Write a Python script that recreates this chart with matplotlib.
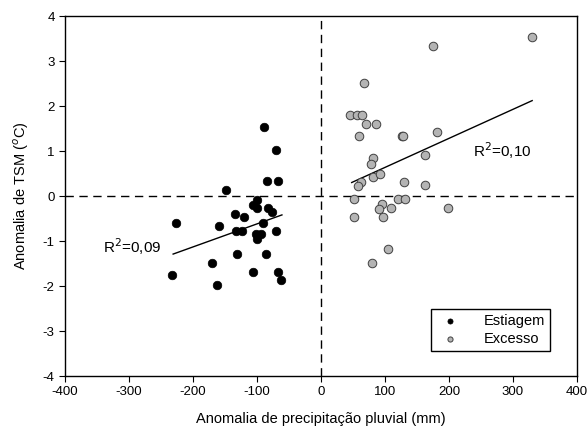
import matplotlib.pyplot as plt
import numpy as np

plt.rcParams["font.family"] = ["Liberation Sans", "DejaVu Sans"]
plt.rcParams["axes.unicode_minus"] = False

# Estiagem (deficit de chuva)
est_x = [-89, -70, -85, -67, -148, -100, -106, -100, -82, -77, -134, -120, -227, -90,
         -159, -133, -124, -70, -102, -93, -100, -131, -86, -171, -232, -106, -67, -62, -163]
est_y = [1.54, 1.02, 0.33, 0.33, 0.13, -0.09, -0.20, -0.27, -0.27, -0.35, -0.39, -0.46,
         -0.59, -0.59, -0.66, -0.78, -0.78, -0.77, -0.85, -0.85, -0.96, -1.29, -1.29,
         -1.48, -1.76, -1.68, -1.68, -1.87, -1.98]

# Excesso de chuva
exc_x = [330, 175, 67, 46, 56, 64, 70, 86, 60, 126, 128, 182, 163, 82, 78, 82, 92, 62, 58,
         130, 163, 52, 121, 131, 96, 91, 109, 199, 52, 97, 105, 79]
exc_y = [3.53, 3.33, 2.52, 1.81, 1.81, 1.81, 1.61, 1.61, 1.34, 1.34, 1.34, 1.42, 0.91,
         0.84, 0.71, 0.43, 0.50, 0.32, 0.23, 0.32, 0.24, -0.07, -0.07, -0.07, -0.18,
         -0.28, -0.27, -0.27, -0.47, -0.47, -1.17, -1.48]

# linhas de tendencia (extremos)
tend_est_x = [-231, -61]
tend_est_y = [-1.29, -0.42]
tend_exc_x = [48, 330]
tend_exc_y = [0.30, 2.12]

fig = plt.figure(figsize=(5.87, 4.34), dpi=100)
ax = fig.add_axes([0.1107, 0.1336, 0.8722, 0.8295])

ax.axhline(0, color="black", lw=1, ls=(0, (6, 4)), zorder=1)
ax.axvline(0, color="black", lw=1, ls=(0, (6, 4)), zorder=1)

ax.scatter(est_x, est_y, s=38, color="black", edgecolors="black", linewidths=0.5,
           zorder=3, label="Estiagem")
ax.scatter(exc_x, exc_y, s=38, color="#b4b4b4", edgecolors="#404040", linewidths=0.7,
           zorder=3, label="Excesso")

ax.plot(tend_est_x, tend_est_y, color="black", lw=1, zorder=2)
ax.plot(tend_exc_x, tend_exc_y, color="black", lw=1, zorder=2)

ax.text(-340, -1.13, "R$^2$=0,09", fontsize=11, va="center", ha="left")
ax.text(238, 1.0, "R$^2$=0,10", fontsize=11, va="center", ha="left")

ax.set_xlim(-400, 400)
ax.set_ylim(-4, 4)
ax.set_xticks(np.arange(-400, 401, 100))
ax.set_yticks(np.arange(-4, 5, 1))
ax.tick_params(direction="out", length=4, labelsize=9.5, top=False, right=False)
for s in ax.spines.values():
    s.set_linewidth(1)

ax.set_xlabel("Anomalia de precipitação pluvial (mm)", fontsize=10.5, labelpad=10)
ax.set_ylabel("Anomalia de TSM ($^{o}$C)", fontsize=10.5, labelpad=8)

leg = ax.legend(loc="lower right", bbox_to_anchor=(0.962, 0.05), fancybox=False,
                edgecolor="black", fontsize=10.5, markerscale=0.6, handletextpad=1.3,
                borderpad=0.35, labelspacing=0.25, framealpha=1)
leg.get_frame().set_linewidth(1)

fig.savefig("out.png", dpi=100)
